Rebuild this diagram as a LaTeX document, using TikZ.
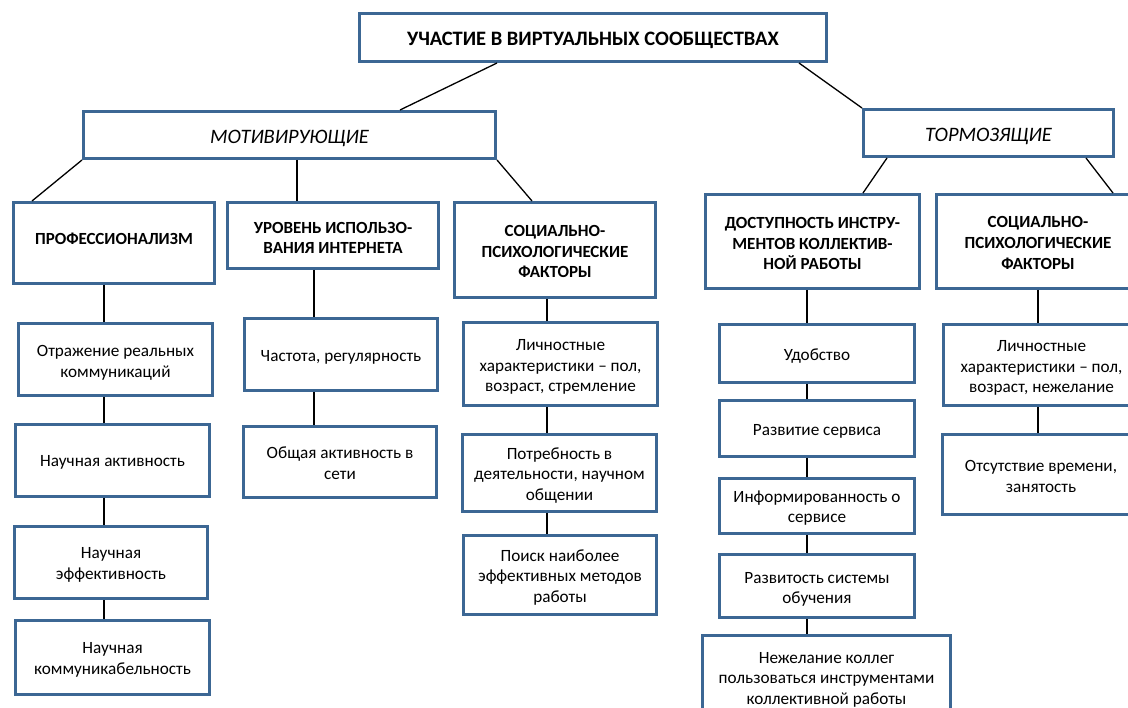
\documentclass[tikz,border=0pt]{standalone}
\usepackage{fontspec}
\setmainfont{Carlito}
\usetikzlibrary{calc}
\definecolor{boxblue}{RGB}{60,103,148}
\tikzset{
  frame/.style={draw=boxblue, line width=3pt, fill=white, inner sep=0pt},
  box/.style={inner sep=0pt, align=center, font=\fontsize{17.2}{20.7}\selectfont},
  headbox/.style={box, font=\fontsize{17}{20.7}\selectfont\bfseries},
  titlebox/.style={box, font=\fontsize{20.5}{24}\selectfont\bfseries},
  catbox/.style={box, font=\fontsize{20.5}{24}\selectfont\itshape},
  conn/.style={draw=black, line width=1.3pt}
}
% \bx[yshift]{textstyle}{name}{x1}{y1}{x2}{y2}{text}
\newcommand\bx[8][2.5]{%
  \node[frame, minimum width={#6-#4}, minimum height={#7-#5}] (#3) at ({(#4+#6)/2},{(#5+#7)/2}) {};
  \node[#2] (#3-t) at ($(#3.center)+(0,#1)$) {#8};}
\begin{document}
\begin{tikzpicture}[x=1pt,y=-1pt]
\useasboundingbox (0,0) rectangle (1128,708);
\clip (0,0) rectangle (1128,708);
% top
\bx[3]{titlebox}{top}{359.5}{13.5}{826.5}{61.5}{УЧАСТИЕ В ВИРТУАЛЬНЫХ СООБЩЕСТВАХ}
\bx[3]{catbox}{mot}{83.5}{111.5}{495.5}{158.5}{МОТИВИРУЮЩИЕ}
\bx[3]{catbox}{torm}{863.5}{109.5}{1113.5}{156.5}{ТОРМОЗЯЩИЕ}
% level 3
\bx[-4.5]{headbox}{prof}{13.5}{202.5}{214.5}{283.5}{ПРОФЕССИОНАЛИЗМ}
\bx{headbox}{urov}{227.5}{202.5}{438.5}{268.5}{УРОВЕНЬ ИСПОЛЬЗО-\\ВАНИЯ ИНТЕРНЕТА}
\bx[1.5]{headbox}{socl}{454.5}{202.5}{655.5}{297.5}{СОЦИАЛЬНО-\\ПСИХОЛОГИЧЕСКИЕ\\ФАКТОРЫ}
\bx[2]{headbox}{dost}{705.5}{194.5}{919.5}{288.5}{ДОСТУПНОСТЬ ИНСТРУ-\\МЕНТОВ КОЛЛЕКТИВ-\\НОЙ РАБОТЫ}
\bx[1.5]{headbox}{socr}{936.5}{194.5}{1139.5}{288.5}{СОЦИАЛЬНО-\\ПСИХОЛОГИЧЕСКИЕ\\ФАКТОРЫ}
% column 1
\bx[3]{box}{otr}{18.5}{323.5}{212.5}{395.5}{Отражение реальных\\коммуникаций}
\bx[2]{box}{nakt}{15.5}{424.5}{209.5}{496.5}{Научная активность}
\bx{box}{neff}{14.5}{526.5}{207.5}{598.5}{Научная\\эффективность}
\bx{box}{nkom}{15.5}{620.5}{209.5}{694.5}{Научная\\коммуникабельность}
% column 2
\bx[3]{box}{chast}{244.5}{318.5}{437.5}{390.5}{Частота, регулярность}
\bx[1]{box}{obsh}{243.5}{426.5}{436.5}{497.5}{Общая активность в\\сети}
% column 3
\bx[3]{box}{lichl}{463.5}{322.5}{657.5}{405.5}{Личностные\\характеристики – пол,\\возраст, стремление}
\bx{box}{potr}{462.5}{434.5}{656.5}{511.5}{Потребность в\\деятельности, научном\\общении}
\bx{box}{poisk}{463.5}{535.5}{656.5}{614.5}{Поиск наиболее\\эффективных методов\\работы}
% column 4
\bx[3]{box}{udob}{719.5}{324.5}{914.5}{382.5}{Удобство}
\bx[3]{box}{razv}{719.5}{400.5}{914.5}{456.5}{Развитие сервиса}
\bx[2]{box}{inf}{719.5}{478.5}{914.5}{533.5}{Информированность о\\сервисе}
\bx[3.5]{box}{razvs}{719.5}{554.5}{914.5}{617.5}{Развитость системы\\обучения}
\bx[1]{box}{nezh}{702.5}{635.5}{950.5}{722}{Нежелание коллег\\пользоваться инструментами\\коллективной работы}
% column 5
\bx[3]{box}{lichr}{943.5}{324.5}{1139.5}{405.5}{Личностные\\характеристики – пол,\\возраст, нежелание}
\bx[2]{box}{ots}{942.5}{434.5}{1139.5}{514.5}{Отсутствие времени,\\занятость}
% chain coordinates
\coordinate (c1) at (104,0);
\coordinate (c2) at (314,0);
\coordinate (c3) at (547,0);
\coordinate (c4) at (807,0);
\coordinate (c5) at (1038,0);
% connectors
\draw[conn] ($(top.south west)+(139,0)$) -- ($(mot.north west)+(318,0)$);
\draw[conn] ($(top.south west)+(441,0)$) -- (torm.north west);
\draw[conn] (mot.south west) -- ($(prof.north west)+(20,0)$);
\draw[conn] ($(mot.south west)+(215,0)$) -- ($(urov.north west)+(71,0)$);
\draw[conn] (mot.south east) -- ($(socl.north west)+(79,0)$);
\draw[conn] ($(torm.south west)+(25,0)$) -- ($(dost.north west)+(159,0)$);
\draw[conn] ($(torm.south west)+(224,0)$) -- ($(socr.north west)+(178,0)$);
\draw[conn] (prof.south -| c1) -- (otr.north -| c1);
\draw[conn] (otr.south -| c1) -- (nakt.north -| c1);
\draw[conn] (nakt.south -| c1) -- (neff.north -| c1);
\draw[conn] (neff.south -| c1) -- (nkom.north -| c1);
\draw[conn] (urov.south -| c2) -- (chast.north -| c2);
\draw[conn] (chast.south -| c2) -- (obsh.north -| c2);
\draw[conn] (socl.south -| c3) -- (lichl.north -| c3);
\draw[conn] (lichl.south -| c3) -- (potr.north -| c3);
\draw[conn] (potr.south -| c3) -- (poisk.north -| c3);
\draw[conn] (dost.south -| c4) -- (udob.north -| c4);
\draw[conn] (udob.south -| c4) -- (razv.north -| c4);
\draw[conn] (razv.south -| c4) -- (inf.north -| c4);
\draw[conn] (inf.south -| c4) -- (razvs.north -| c4);
\draw[conn] (razvs.south -| c4) -- (nezh.north -| c4);
\draw[conn] (socr.south -| c5) -- (lichr.north -| c5);
\draw[conn] (lichr.south -| c5) -- (ots.north -| c5);
\end{tikzpicture}
\end{document}
